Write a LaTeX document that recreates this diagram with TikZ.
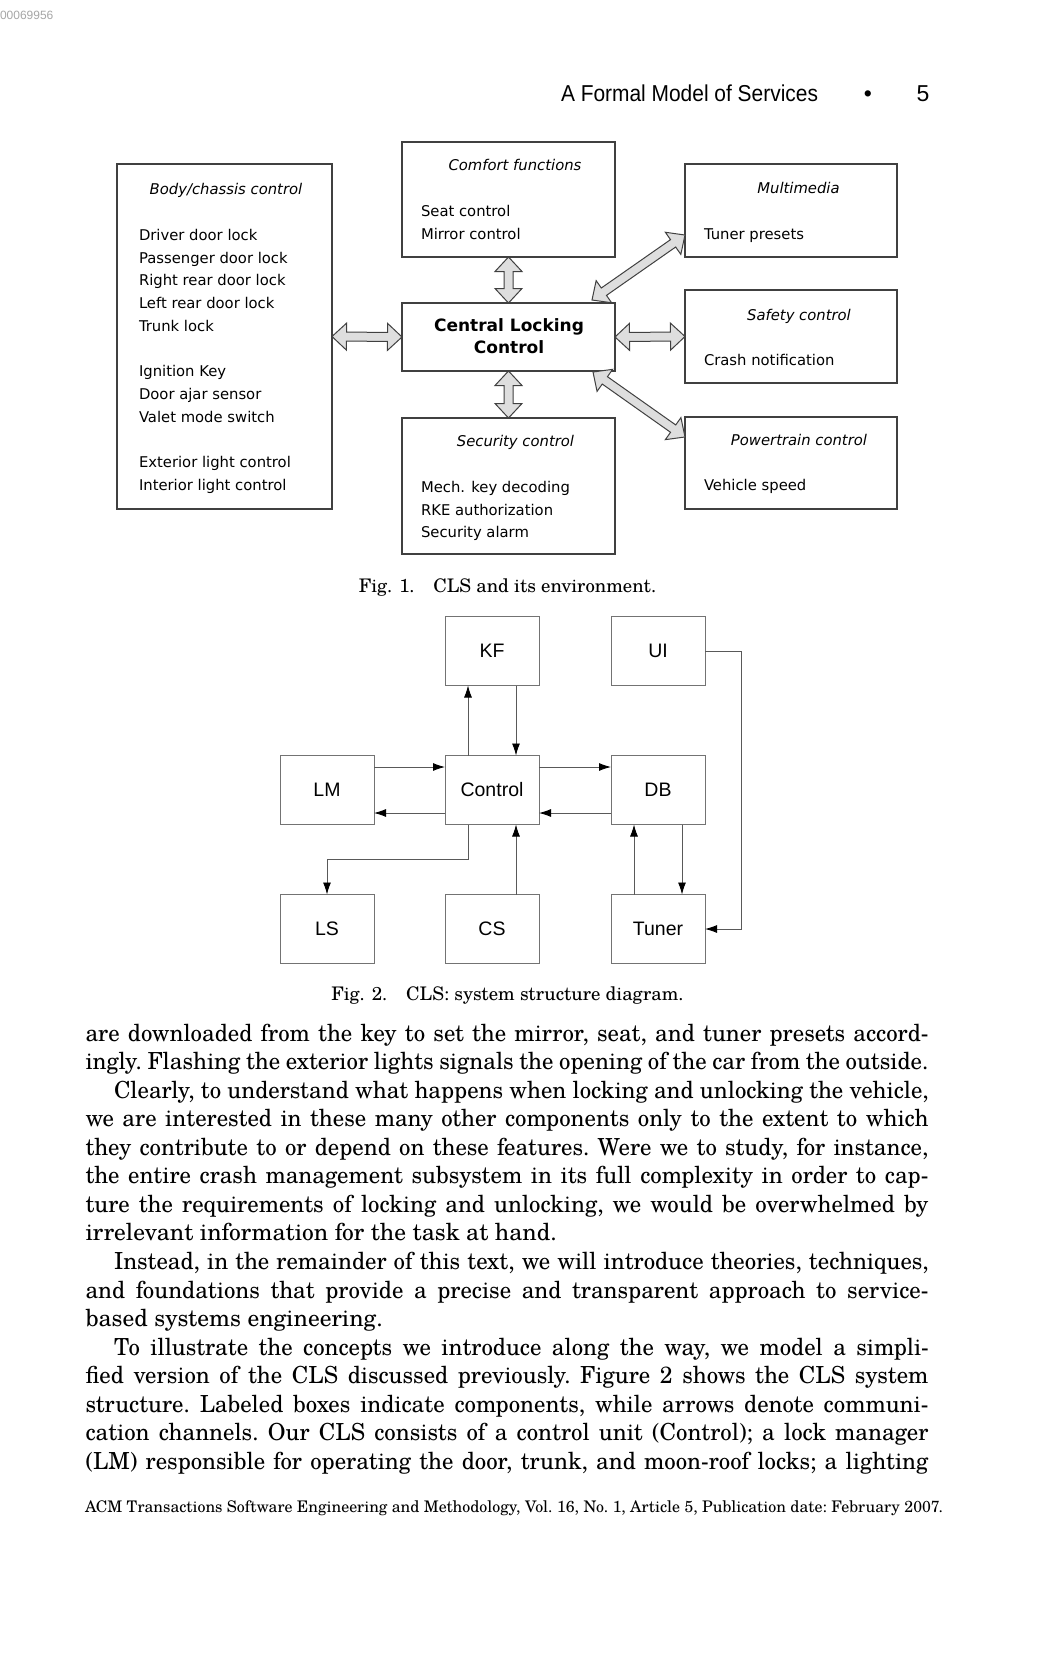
\documentclass[tikz,border=0pt]{standalone}
\usepackage{fontspec}
\usepackage{graphicx}
\usetikzlibrary{arrows.meta,positioning,calc}
\newfontfamily\dejavu{DejaVu Sans}
\newfontfamily\arial{Liberation Sans}
\newfontfamily\schola{texgyreschola}[Extension=.otf,UprightFont=*-regular,BoldFont=*-bold,ItalicFont=*-italic,BoldItalicFont=*-bolditalic]

\newcommand{\fullline}[1]{\scalebox{0.97}[1]{\makebox[869pt][s]{#1}}}
\newcommand{\indline}[1]{\scalebox{0.97}[1]{\makebox[840pt][s]{#1}}}
\newcommand{\lastline}[1]{\scalebox{1.0}[1]{#1}}
\newcommand{\fatarrow}[2]{%
  \path let \p1=#1, \p2=#2 in \pgfextra{%
    \pgfmathsetmacro{\faang}{atan2(\y2-\y1,\x2-\x1)}%
    \pgfmathsetmacro{\falen}{veclen(\x2-\x1,\y2-\y1)}%
    \xdef\faang{\faang}\xdef\falen{\falen}%
    \xdef\fax{\x1}\xdef\fay{\y1}};
  \draw[fatline, shift={(\fax,\fay)}, rotate=\faang]
    (0pt,0pt) -- (14.5pt,13.5pt) -- (14.5pt,4.5pt) -- (\falen pt-14.5pt,4.5pt)
    -- (\falen pt-14.5pt,13.5pt) -- (\falen pt,0pt) -- (\falen pt-14.5pt,-13.5pt)
    -- (\falen pt-14.5pt,-4.5pt) -- (14.5pt,-4.5pt) -- (14.5pt,-13.5pt) -- cycle;
}

\begin{document}
\begin{tikzpicture}[x=1pt, y=-1pt, inner sep=0pt, outer sep=0pt]
    % Styles
    \tikzstyle{envbox}=[rectangle, draw=black!75, line width=1.1pt, anchor=north west]
    \tikzstyle{envtitle}=[font=\dejavu\itshape\fontsize{14.8}{22.7}\selectfont, anchor=base]
    \tikzstyle{envitem}=[font=\dejavu\fontsize{14.8}{22.7}\selectfont, anchor=base west]
    \tikzstyle{clctext}=[font=\dejavu\bfseries\fontsize{17}{22}\selectfont, anchor=base]
    \tikzstyle{fatline}=[draw=black!75, fill=black!13, line width=1pt, line join=miter]
    \tikzstyle{block}=[rectangle, draw=black!55, line width=1pt, minimum width=94pt, minimum height=69pt, font=\arial\fontsize{19.5}{19.5}\selectfont]
    \tikzstyle{link}=[draw=black!65, line width=0.9pt, -{Latex[length=12pt,width=8pt,fill=black,color=black]}]
    \tikzstyle{bodytext}=[font=\schola\fontsize{23.5}{28.55}\selectfont\frenchspacing, anchor=base west]
    \tikzstyle{caption}=[font=\schola\fontsize{18.7}{18.7}\selectfont, anchor=base]

    \fill[white] (0,0) rectangle (1050,1664);
    \useasboundingbox (0,0) rectangle (1050,1664);

    % Page head
    \node[font=\arial\fontsize{12}{12}\selectfont, text=black!35, anchor=base west] (scanid) at (0,19.5) {00069956};
    \node[font=\arial\fontsize{23}{23}\selectfont, anchor=base west] (runhead) at (561,102) {\resizebox{257pt}{\height}{A Formal Model of Services}};
    \node[font=\arial\fontsize{23}{23}\selectfont, anchor=base] (bullet) at (868,102) {\textbullet};
    \node[font=\arial\fontsize{23}{23}\selectfont, anchor=base] (pageno) at (923,102) {5};

    % Fig. 1 boxes
    \node[envbox, minimum width=215pt, minimum height=345pt] (body) at (117,164) {};
    \node[envbox, minimum width=213pt, minimum height=115pt] (comfort) at (402,142) {};
    \node[envbox, minimum width=213pt, minimum height=68pt] (clc) at (402,303) {};
    \node[envbox, minimum width=213pt, minimum height=136pt] (security) at (402,418) {};
    \node[envbox, minimum width=212pt, minimum height=93pt] (multimedia) at (685,164) {};
    \node[envbox, minimum width=212pt, minimum height=93pt] (safety) at (685,290) {};
    \node[envbox, minimum width=212pt, minimum height=92pt] (powertrain) at (685,417) {};

    % Fig. 1 texts
    \node[envtitle] (bodytitle) at (226,195) {Body/chassis control};
    \node[envitem] (b1) at (139,240.5) {Driver door lock};
    \node[envitem] (b2) at (139,263.2) {Passenger door lock};
    \node[envitem] (b3) at (139,285.9) {Right rear door lock};
    \node[envitem] (b4) at (139,308.6) {Left rear door lock};
    \node[envitem] (b5) at (139,331.3) {Trunk lock};
    \node[envitem] (b6) at (139,376.7) {Ignition Key};
    \node[envitem] (b7) at (139,399.4) {Door ajar sensor};
    \node[envitem] (b8) at (139,422.1) {Valet mode switch};
    \node[envitem] (b9) at (139,467.5) {Exterior light control};
    \node[envitem] (b10) at (139,490.2) {Interior light control};

    \node[envtitle] (comforttitle) at (515,170.5) {Comfort functions};
    \node[envitem] (c1) at (421,216.5) {Seat control};
    \node[envitem] (c2) at (421,239.2) {Mirror control};

    \node[clctext] (clc1) at (509,331) {Central Locking};
    \node[clctext] (clc2) at (509,353.3) {Control};

    \node[envtitle] (securitytitle) at (515.5,446.7) {Security control};
    \node[envitem] (s1) at (421,492.3) {Mech. key decoding};
    \node[envitem] (s2) at (421,515) {RKE authorization};
    \node[envitem] (s3) at (421,537.7) {Security alarm};

    \node[envtitle] (multititle) at (798.5,193.3) {Multimedia};
    \node[envitem] (m1) at (704,239) {Tuner presets};
    \node[envtitle] (safetytitle) at (799,320) {Safety control};
    \node[envitem] (f1) at (704,365) {Crash notification};
    \node[envtitle] (powertitle) at (799,445) {Powertrain control};
    \node[envitem] (p1) at (704,490) {Vehicle speed};

    % Fig. 1 arrows
    \fatarrow{(body.east)}{(clc.west)}
    \fatarrow{(comfort.south)}{(clc.north)}
    \fatarrow{(clc.south)}{(security.north)}
    \fatarrow{(clc.east)}{(safety.west)}
    \fatarrow{($(clc.north east)+(-23,-3)$)}{($(multimedia.south west)+(0,-22)$)}
    \fatarrow{($(clc.south east)+(-22,1)$)}{($(powertrain.north west)+(0,20)$)}

    \node[caption] (cap1) at (507.5,592.7) {Fig. 1.\quad CLS and its environment.};

    % Fig. 2 blocks
    \node[block] (control) at (492,790) {Control};
    \node[block, above=70pt of control] (kf) {KF};
    \node[block, left=71pt of control] (lm) {LM};
    \node[block, right=72pt of control] (db) {DB};
    \node[block, above=70pt of db] (ui) {UI};
    \node[block, below=70pt of control] (cs) {CS};
    \node[block, below=70pt of lm] (ls) {LS};
    \node[block, below=70pt of db] (tuner) {Tuner};

    % Fig. 2 channels
    \draw[link] ([xshift=-24pt]control.north) -- ([xshift=-24pt]kf.south);
    \draw[link] ([xshift=24pt]kf.south) -- ([xshift=24pt]control.north);
    \draw[link] ([yshift=23pt]lm.east) -- ([yshift=23pt]control.west);
    \draw[link] ([yshift=-23pt]control.west) -- ([yshift=-23pt]lm.east);
    \draw[link] ([yshift=23pt]control.east) -- ([yshift=23pt]db.west);
    \draw[link] ([yshift=-23pt]db.west) -- ([yshift=-23pt]control.east);
    \draw[link] ([xshift=-24pt]control.south) -- ++(0,35) -| (ls.north);
    \draw[link] ([xshift=24pt]cs.north) -- ([xshift=24pt]control.south);
    \draw[link] ([xshift=-24pt]tuner.north) -- ([xshift=-24pt]db.south);
    \draw[link] ([xshift=24pt]db.south) -- ([xshift=24pt]tuner.north);
    \draw[link] (ui.east) -- ++(36,0) |- (tuner.east);

    \node[caption] (cap2) at (507.5,1000) {Fig. 2.\quad CLS: system structure diagram.};

    % Body text
    \node[bodytext] (l1) at (85.5,1041.0) {\fullline{are downloaded from the key to set the mirror, seat, and tuner presets accord-}};
    \node[bodytext] (l2) at (85.5,1069.6) {\fullline{ingly. Flashing the exterior lights signals the opening of the car from the outside.}};
    \node[bodytext] (l3) at (114,1098.1) {\indline{Clearly, to understand what happens when locking and unlocking the vehicle,}};
    \node[bodytext] (l4) at (85.5,1126.7) {\fullline{we are interested in these many other components only to the extent to which}};
    \node[bodytext] (l5) at (85.5,1155.2) {\fullline{they contribute to or depend on these features. Were we to study, for instance,}};
    \node[bodytext] (l6) at (85.5,1183.8) {\fullline{the entire crash management subsystem in its full complexity in order to cap-}};
    \node[bodytext] (l7) at (85.5,1212.3) {\fullline{ture the requirements of locking and unlocking, we would be overwhelmed by}};
    \node[bodytext] (l8) at (85.5,1240.9) {\lastline{irrelevant information for the task at hand.}};
    \node[bodytext] (l9) at (114,1269.4) {\indline{Instead, in the remainder of this text, we will introduce theories, techniques,}};
    \node[bodytext] (l10) at (85.5,1298.0) {\fullline{and foundations that provide a precise and transparent approach to service-}};
    \node[bodytext] (l11) at (85.5,1326.5) {\lastline{based systems engineering.}};
    \node[bodytext] (l12) at (114,1355.1) {\indline{To illustrate the concepts we introduce along the way, we model a simpli-}};
    \node[bodytext] (l13) at (85.5,1383.6) {\fullline{fied version of the CLS discussed previously. Figure 2 shows the CLS system}};
    \node[bodytext] (l14) at (85.5,1412.2) {\fullline{structure. Labeled boxes indicate components, while arrows denote communi-}};
    \node[bodytext] (l15) at (85.5,1440.7) {\fullline{cation channels. Our CLS consists of a control unit (Control); a lock manager}};
    \node[bodytext] (l16) at (85.5,1469.3) {\fullline{(LM) responsible for operating the door, trunk, and moon-roof locks; a lighting}};

    % Page foot
    \node[font=\schola\fontsize{16}{16}\selectfont\frenchspacing, anchor=base west] (footer) at (85,1512) {\resizebox{858pt}{\height}{ACM Transactions Software Engineering and Methodology, Vol. 16, No. 1, Article 5, Publication date: February 2007.}};

\end{tikzpicture}
\end{document}
